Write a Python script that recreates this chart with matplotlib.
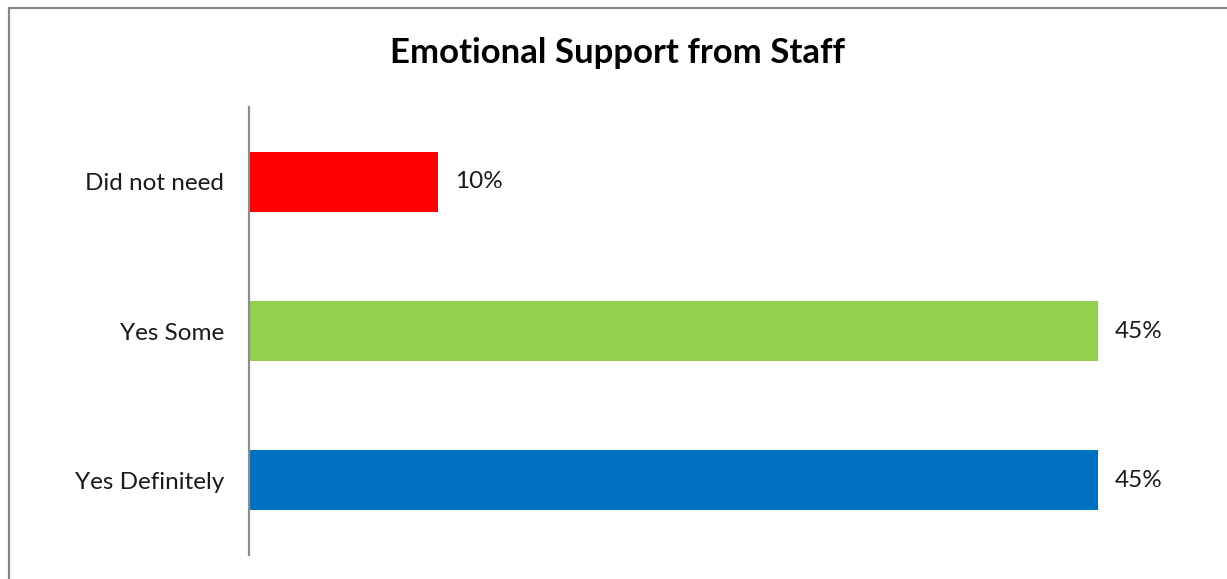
import matplotlib.pyplot as plt
from matplotlib.patches import Rectangle

# Survey results
categories = ['Yes Definitely', 'Yes Some', 'Did not need']
percentages = [45, 45, 10]
bar_colors = ['#0070C0', '#92D050', '#FF0000']

plt.rcParams['font.family'] = ['Lato', 'DejaVu Sans']

W, H = 1227, 579
fig = plt.figure(figsize=(W / 100, H / 100), dpi=100)

# Outer chart border (only left and top edges fall inside the image)
fig.patches.append(Rectangle((8.5 / W, -0.2), 2.0, 1.2 - 8.5 / H,
                             transform=fig.transFigure, fill=False,
                             edgecolor='#878787', linewidth=1.6))

ax = fig.add_axes([249 / W, 1 - 555 / H, 943 / W, 448 / H])

y = range(len(categories))
ax.barh(y, percentages, height=0.4, color=bar_colors)

# Value labels to the right of each bar
for i, v in enumerate(percentages):
    ax.text(v + 0.9, i, f'{v}%', va='center', ha='left', fontsize=17.5, color='#1a1a1a')

ax.set_xlim(0, 50)
ax.set_ylim(-0.5, len(categories) - 0.5)
ax.set_yticks(list(y))
ax.set_yticklabels(categories, fontsize=17.5, color='#1a1a1a')
ax.tick_params(axis='y', length=0, pad=18)
ax.set_xticks([])

for side in ['top', 'right', 'bottom']:
    ax.spines[side].set_visible(False)
ax.spines['left'].set_color('#8c8c8c')
ax.spines['left'].set_linewidth(1.6)

fig.text(618 / W, 1 - 53 / H, 'Emotional Support from Staff', ha='center', va='center',
         fontsize=25, fontweight='bold', color='black')

fig.savefig('out.png', dpi=100)
